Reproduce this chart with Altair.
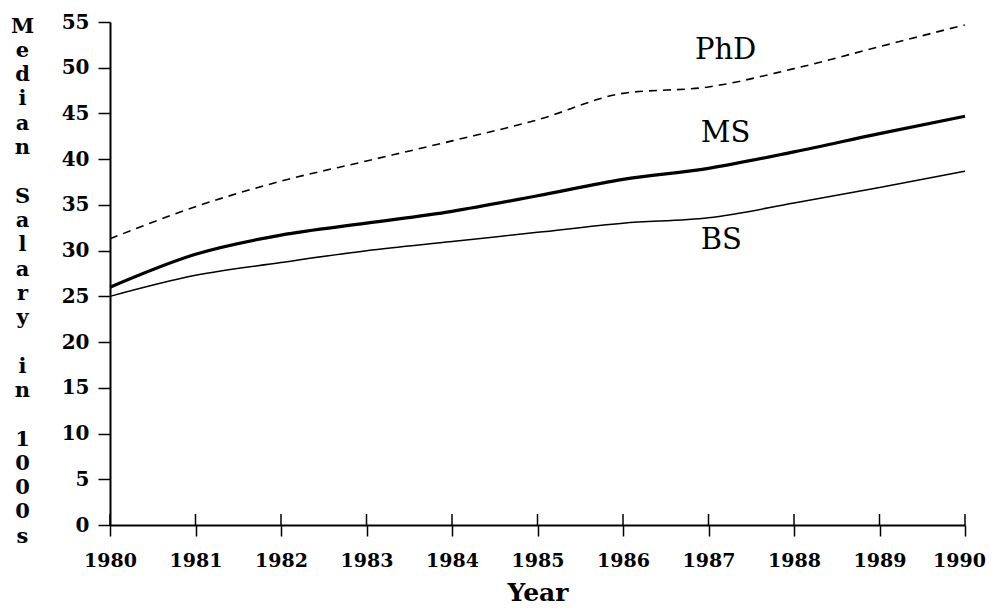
import altair as alt
import pandas as pd

years = list(range(1980, 1991))
phd = [31.3, 34.8, 37.6, 39.8, 42.0, 44.3, 47.2, 47.9, 49.9, 52.3, 54.7]
ms = [26.0, 29.6, 31.7, 33.0, 34.3, 36.0, 37.8, 39.0, 40.8, 42.8, 44.7]
bs = [25.0, 27.3, 28.7, 30.0, 31.0, 32.0, 33.0, 33.6, 35.2, 36.9, 38.7]

label_text = ["PhD", "MS", "BS"]
label_x = [1987.2, 1987.2, 1987.15]
label_y = [51.9, 42.9, 31.2]

y_title = "Median Salary in 1000s"
y_title_lines = [c if c != " " else "\u2800" for c in y_title]

labels_df = pd.DataFrame({"text": label_text, "year": label_x, "salary": label_y})
ticks_df = pd.DataFrame({"year": years})

TICK_FONT = "DejaVu Serif"
x_scale = alt.Scale(domain=[1980, 1990], nice=False, zero=False)
y_scale = alt.Scale(domain=[0, 55], nice=False)

x_enc = alt.X(
    "year:Q",
    scale=x_scale,
    axis=alt.Axis(
        values=years,
        format="d",
        title="Year",
        titleFont=TICK_FONT,
        titleFontSize=25,
        titleFontWeight="bold",
        titleBaseline="alphabetic",
        titleY=75,
        labelFont=TICK_FONT,
        labelFontSize=19,
        labelFontWeight="bold",
        labelColor="black",
        labelPadding=15,
        labelOffset={"condition": {"test": "datum.value == 1990", "value": -6}, "value": 0},
        tickSize=11,
        tickWidth=1.5,
        tickColor="black",
        domainColor="black",
        domainWidth=2,
        grid=False,
        labelFlush=False,
    ),
)
y_enc = alt.Y(
    "salary:Q",
    scale=y_scale,
    axis=alt.Axis(
        values=list(range(0, 56, 5)),
        title=y_title_lines,
        titleAngle=0,
        titleAlign="center",
        titleBaseline="top",
        titleX=-88,
        titleY=-7,
        titleLineHeight=24.3,
        titleFont=TICK_FONT,
        titleFontSize=21,
        titleFontWeight="bold",
        labelFont=TICK_FONT,
        labelFontSize=20,
        labelFontWeight="bold",
        labelColor="black",
        labelPadding=9,
        tickSize=12,
        tickWidth=1.5,
        tickColor="black",
        domainColor="black",
        domainWidth=2,
        grid=False,
    ),
)


def series_line(vals, width, dash=None):
    d = pd.DataFrame({"year": years, "salary": vals})
    kw = dict(interpolate="monotone", color="black", strokeWidth=width)
    if dash:
        kw["strokeDash"] = dash
    return alt.Chart(d).mark_line(**kw).encode(x=x_enc, y=y_enc)


l_phd = series_line(phd, 1.6, [8, 6])
l_ms = series_line(ms, 3.2)
l_bs = series_line(bs, 1.5)

# upper half of the crossing x-axis ticks
up_ticks = (
    alt.Chart(ticks_df)
    .transform_calculate(salary="0", salary_hi="1.2")
    .mark_rule(color="black", strokeWidth=1.5)
    .encode(x=x_enc, y=y_enc, y2="salary_hi:Q")
)

texts = alt.Chart(labels_df).mark_text(
    font=TICK_FONT, fontSize=29, color="black", align="center", baseline="middle"
).encode(x=x_enc, y=y_enc, text="text:N")

chart = (
    alt.layer(l_phd, l_ms, l_bs, up_ticks, texts)
    .properties(
        width=855,
        height=503,
        padding={"left": 102, "top": 14, "right": 22, "bottom": 78},
        autosize=alt.AutoSizeParams(type="none"),
        view=alt.ViewBackground(strokeWidth=0, strokeOpacity=0),
    )
    .configure_view(strokeWidth=0, strokeOpacity=0)
    .configure_axis(grid=False, gridOpacity=0, gridWidth=0)
    .configure(background="white")
)

chart.save("out.html", embed_options={"renderer": "svg", "actions": False})
